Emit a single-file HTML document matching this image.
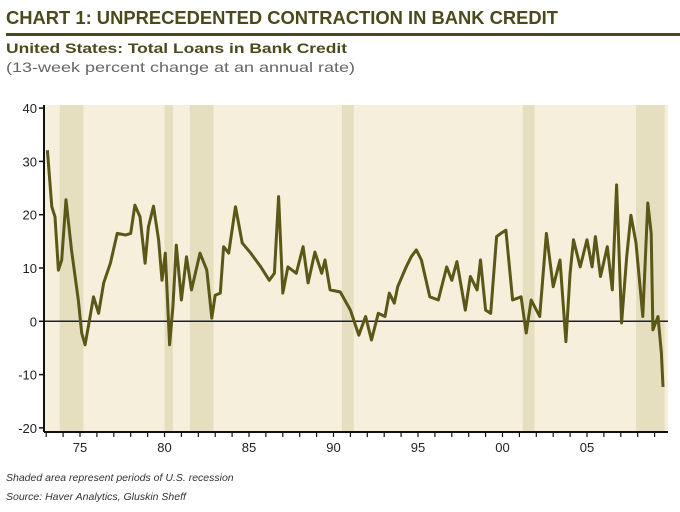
<!DOCTYPE html>
<html><head><meta charset="utf-8"><style>
body{margin:0;background:#fff;width:680px;height:507px;overflow:hidden;font-family:"Liberation Sans",sans-serif}
</style></head><body>
<svg width="680" height="507" xmlns="http://www.w3.org/2000/svg">
<text x="6" y="24" font-size="18" font-weight="bold" fill="#4a4a1c" textLength="552" lengthAdjust="spacingAndGlyphs">CHART 1: UNPRECEDENTED CONTRACTION IN BANK CREDIT</text>
<rect x="6" y="33" width="674" height="3" fill="#4a4a1c"/>
<text x="6" y="53" font-size="14" font-weight="bold" fill="#4a4a1c" textLength="341" lengthAdjust="spacingAndGlyphs">United States: Total Loans in Bank Credit</text>
<text x="6" y="72" font-size="14" fill="#666" textLength="349" lengthAdjust="spacingAndGlyphs">(13-week percent change at an annual rate)</text>
<g id="plot"></g>
<text x="6" y="481" font-size="10.5" font-style="italic" fill="#333">Shaded area represent periods of U.S. recession</text>
<text x="6" y="500" font-size="10.5" font-style="italic" fill="#333">Source: Haver Analytics, Gluskin Sheff</text>
</svg>
<script>
const years=[1973.07,1973.33,1973.52,1973.72,1973.92,1974.17,1974.5,1974.9,1975.1,1975.3,1975.6,1975.8,1976.1,1976.4,1976.8,1977.2,1977.7,1978.0,1978.25,1978.55,1978.85,1979.05,1979.35,1979.65,1979.85,1980.05,1980.3,1980.5,1980.7,1981.0,1981.3,1981.6,1982.1,1982.5,1982.8,1983.0,1983.3,1983.5,1983.8,1984.2,1984.6,1985.1,1985.7,1986.2,1986.5,1986.75,1987.0,1987.3,1987.8,1988.2,1988.5,1988.9,1989.3,1989.5,1989.8,1990.4,1991.0,1991.5,1991.9,1992.25,1992.65,1993.05,1993.3,1993.6,1993.8,1994.3,1994.6,1994.9,1995.2,1995.7,1996.2,1996.7,1997.0,1997.3,1997.8,1998.1,1998.5,1998.7,1999.0,1999.3,1999.65,1999.9,2000.2,2000.6,2001.1,2001.4,2001.7,2002.2,2002.6,2003.0,2003.4,2003.75,2004.0,2004.2,2004.6,2005.0,2005.3,2005.5,2005.8,2006.2,2006.5,2006.75,2007.05,2007.35,2007.6,2007.9,2008.3,2008.6,2008.8,2008.9,2009.2,2009.4,2009.5];
const values=[32.1,21.5,19.6,9.6,11.5,22.8,13.4,4,-2.2,-4.4,0.9,4.6,1.5,7.2,10.9,16.5,16.2,16.5,21.8,19.6,10.9,17.7,21.6,15.3,7.7,12.8,-4.4,2.7,14.3,4,12.1,5.9,12.8,9.6,0.6,4.9,5.3,14,12.8,21.5,14.7,12.8,10.2,7.7,9,23.4,5.3,10.2,9,14,7.2,13,9,11.5,5.9,5.5,2.1,-2.6,0.9,-3.5,1.5,0.9,5.3,3.4,6.5,10.2,12.1,13.4,11.5,4.6,4,10.2,7.7,11.2,2.1,8.4,5.9,11.5,2.1,1.5,15.9,16.5,17.1,4,4.6,-2.2,4,0.9,16.5,6.5,11.5,-3.8,9,15.3,10.2,15.3,10.2,15.9,8.4,14,5.9,25.6,-0.3,12.1,19.9,14.7,0.9,22.2,16.5,-1.6,0.9,-6,-12.3];
const recStart=[1973.8,1980.0,1981.5,1990.5,2001.2,2007.9];
const recEnd=[1975.2,1980.5,1982.9,1991.2,2001.9,2009.6];
const yTicks=[40,30,20,10,0,-10,-20];
const xTickLabels=["75","80","85","90","95","00","05"];
const xTickYears=[1975,1980,1985,1990,1995,2000,2005];
const NS="http://www.w3.org/2000/svg";
const L=44,R=668,T=105,B=432;
const xs=y=>80+(y-1975)*16.9;
const ys=v=>321.3-v*5.33;
const g=document.getElementById('plot');
function mk(t,a){const e=document.createElementNS(NS,t);for(const k in a)e.setAttribute(k,a[k]);g.appendChild(e);return e;}
let e=mk('rect',{x:L,y:T,width:R-L,height:B-T,fill:'#f6efdc'});


recStart.forEach((s,i)=>{const x0=Math.max(L,xs(s)),x1=Math.min(R,xs(recEnd[i]));
const r=mk('rect',{x:x0,y:T,width:x1-x0,height:B-T,fill:'#e5dfc0'});

});
e=mk('line',{x1:L,x2:R,y1:ys(0),y2:ys(0),stroke:'#222','stroke-width':1.5});


const pts=years.map((y,i)=>xs(y).toFixed(1)+','+ys(values[i]).toFixed(1)).join(' ');
e=mk('polyline',{points:pts,fill:'none',stroke:'#5a5717','stroke-width':3,'stroke-linejoin':'round'});


e=mk('line',{x1:L,x2:L,y1:T,y2:B,stroke:'#111','stroke-width':2});


e=mk('line',{x1:L,x2:R,y1:B,y2:B,stroke:'#111','stroke-width':2});


yTicks.forEach(v=>{const yy=ys(v);
mk('line',{x1:L-5,x2:L,y1:yy,y2:yy,stroke:'#111','stroke-width':1.5});
const t=mk('text',{x:L-7,y:yy+5,'font-size':13,'text-anchor':'end',fill:'#222'});t.textContent=v;

});
for(let yr=1973;yr<=2009;yr++){const x=xs(yr);if(x<L||x>R)continue;mk('line',{x1:x,x2:x,y1:B,y2:B+5,stroke:'#111','stroke-width':1.2});}
xTickYears.forEach((yr,i)=>{const t=mk('text',{x:xs(yr),y:B+20,'font-size':13,'text-anchor':'middle',fill:'#222'});t.textContent=xTickLabels[i];

});
</script>
</body></html>
